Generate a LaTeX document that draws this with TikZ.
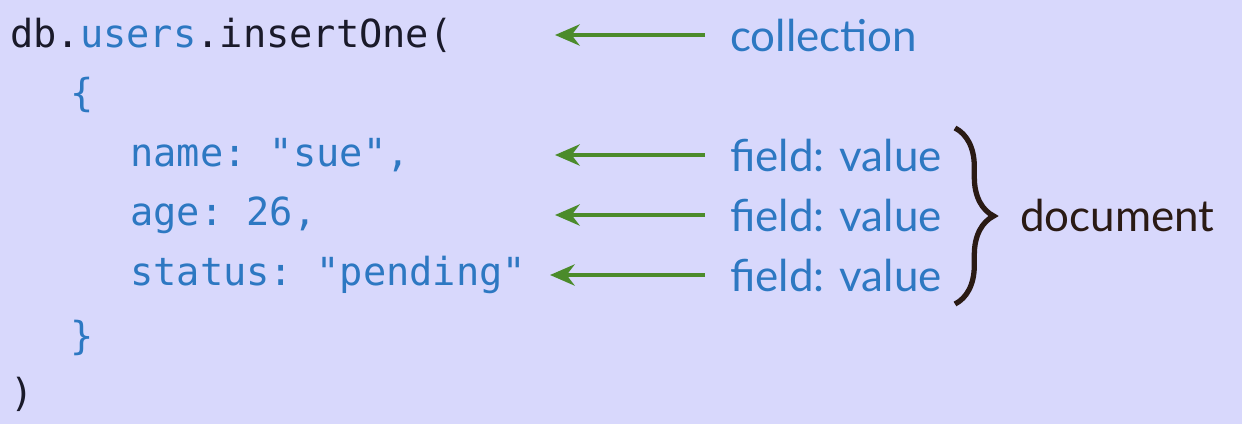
\documentclass[tikz,border=0pt]{standalone}
\usepackage{fontspec}
\setmainfont{Lato}
\setmonofont{DejaVu Sans Mono}
\usetikzlibrary{positioning,decorations.pathreplacing,arrows.meta}
\definecolor{bgpurple}{HTML}{D8D8FC}
\definecolor{codeblue}{HTML}{2D78C2}
\definecolor{codeblack}{HTML}{1A1A2A}
\definecolor{arrgreen}{HTML}{4B8B2B}
\definecolor{bracebrown}{HTML}{2A1A14}
\begin{document}
\begin{tikzpicture}[x=0.02cm,y=0.02cm,
	code/.style={anchor=west,inner sep=0pt,font=\fontsize{22}{26}\selectfont\ttfamily},
	lab/.style={anchor=west,inner sep=0pt,text=codeblue,font=\fontsize{25}{30}\selectfont},
	link/.style={-{Stealth[length=14pt,width=12pt]},draw=arrgreen,line width=2.5pt}]
	\fill[bgpurple] (0,0) rectangle (1242,424);
	% code lines
	\node[code,name=db] at (10,389) {\textcolor{codeblack}{db.}\textcolor{codeblue}{users}\textcolor{codeblack}{.insertOne(}};
	\node[code,text=codeblue,name=open] at (70,329) {\{};
	\node[code,text=codeblue,name=name] at (130,269) {name: "sue",};
	\node[code,text=codeblue,name=age] at (130,209) {age: 26,};
	\node[code,text=codeblue,name=status] at (130,149) {status: "pending"};
	\node[code,text=codeblue,name=close] at (70,86) {\}};
	\node[code,text=codeblack,name=paren] at (10,30) {)};
	% labels
	\node[lab,name=coll] at (730,389) {collection};
	\node[lab,name=f1] at (730,269) {field: value};
	\node[lab,name=f2] at (730,209) {field: value};
	\node[lab,name=f3] at (730,149) {field: value};
	\node[lab,text=bracebrown,name=doc] at (1020,209) {document};
	% arrow ends
	\coordinate (t0) at (555,389);
	\coordinate (t1) at (555,269);
	\coordinate (t2) at (555,209);
	\coordinate (t3) at (550,149);
	\draw[link] (coll.west) ++(-25,0) -- (t0);
	\draw[link] (f1.west) ++(-25,0) -- (t1);
	\draw[link] (f2.west) ++(-25,0) -- (t2);
	\draw[link] (f3.west) ++(-25,0) -- (t3);
	% brace
	\draw[bracebrown,line width=3pt,decorate,
		decoration={brace,amplitude=22pt}] (955,296) -- (955,120);
\end{tikzpicture}
\end{document}
